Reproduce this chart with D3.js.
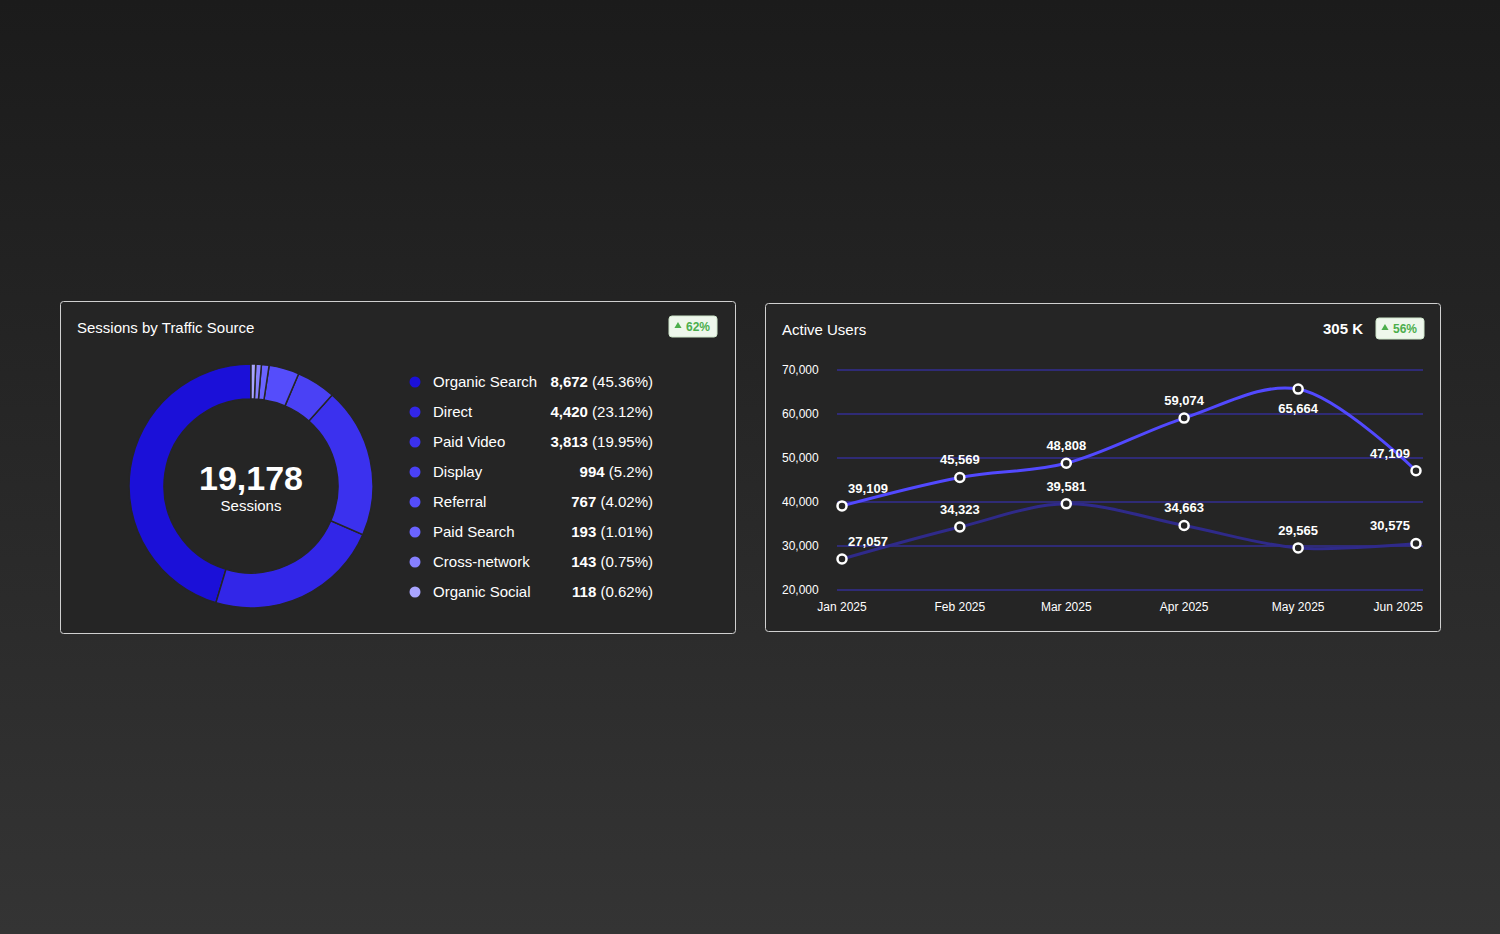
<!DOCTYPE html>
<html><head><meta charset="utf-8">
<script src="https://cdn.jsdelivr.net/npm/d3@7"></script>
<style>
html,body{margin:0;padding:0;}
body{width:1500px;height:934px;background:linear-gradient(#1b1b1b,#343434);font-family:"Helvetica Neue",Arial,"Liberation Sans",sans-serif;overflow:hidden;}
</style></head><body>
<script>
// donut data
var sources = ['Organic Search','Direct','Paid Video','Display','Referral','Paid Search','Cross-network','Organic Social'];
var sessions = [8672, 4420, 3813, 994, 767, 193, 143, 118];
var shares = ['45.36%','23.12%','19.95%','5.2%','4.02%','1.01%','0.75%','0.62%'];
var totalSessions = 19178;
var colors = ['#1b10d8','#3226e8','#3b31ee','#4a41f5','#554dfb','#6a63ff','#8680ff','#a9a5ff'];

// line data
var months = ['Jan 2025','Feb 2025','Mar 2025','Apr 2025','May 2025','Jun 2025'];
var usersA = [39109, 45569, 48808, 59074, 65664, 47109];
var usersB = [27057, 34323, 39581, 34663, 29565, 30575];
var yTicks = [20000, 30000, 40000, 50000, 60000, 70000];

var fmt = d3.format(',');
var parseMonth = d3.timeParse('%b %Y');
var dates = months.map(parseMonth);
var svg = d3.select('body').append('svg').attr('width', 1500).attr('height', 934);

function panel(x, y, w, h) {
    svg.append('rect').attr('x', x + 0.5).attr('y', y + 0.5).attr('width', w).attr('height', h)
        .attr('rx', 3).attr('fill', '#252525').attr('stroke', '#d0d0d0').attr('stroke-width', 1);
}
function badge(x, y, txt) {
    svg.append('rect').attr('x', x).attr('y', y).attr('width', 48).attr('height', 21).attr('rx', 3)
        .attr('fill', '#eef7ec').attr('stroke', '#cfe6cb');
    svg.append('path').attr('d', d3.symbol(d3.symbolTriangle, 22)())
        .attr('transform', 'translate(' + (x + 9) + ',' + (y + 10) + ')').attr('fill', '#4cae4c');
    svg.append('text').attr('x', x + 17).attr('y', y + 15).attr('font-size', 12).attr('font-weight', 'bold')
        .attr('fill', '#4cae4c').text(txt);
}

// ---- left panel
panel(60, 301, 675, 332);
svg.append('text').attr('x', 77).attr('y', 333).attr('fill', '#fff').attr('font-size', 15).text('Sessions by Traffic Source');
badge(669, 316, '62%');

var idx = d3.range(sources.length);
var pie = d3.pie().value(function (i) { return sessions[i]; })
    .sort(function (a, b) { return sessions[a] - sessions[b]; })
    .startAngle(0).endAngle(2 * Math.PI);
var arc = d3.arc().innerRadius(87).outerRadius(122);
var g = svg.append('g').attr('transform', 'translate(251,486)');
g.selectAll('path').data(pie(idx)).enter().append('path')
    .attr('d', arc)
    .attr('fill', function (d) { return colors[d.data]; })
    .attr('stroke', '#252525').attr('stroke-width', 1.5);
g.append('text').attr('text-anchor', 'middle').attr('y', 4).attr('fill', '#fff')
    .attr('font-size', 34).attr('font-weight', 'bold').text(fmt(totalSessions));
g.append('text').attr('text-anchor', 'middle').attr('y', 25).attr('fill', '#fff')
    .attr('font-size', 15).text('Sessions');

var ly = d3.scaleBand().domain(sources).range([367, 607]);
var leg = svg.selectAll('.leg').data(sources).enter().append('g')
    .attr('transform', function (d) { return 'translate(0,' + (ly(d) + ly.bandwidth() / 2) + ')'; });
leg.append('circle').attr('cx', 415).attr('cy', 0).attr('r', 5.5).attr('fill', function (d, i) { return colors[i]; });
leg.append('text').attr('x', 433).attr('y', 5).attr('fill', '#fff').attr('font-size', 15).text(function (d) { return d; });
var vt = leg.append('text').attr('x', 653).attr('y', 5).attr('text-anchor', 'end').attr('fill', '#fff').attr('font-size', 15);
vt.append('tspan').attr('font-weight', 'bold').text(function (d, i) { return fmt(sessions[i]); });
vt.append('tspan').text(function (d, i) { return ' (' + shares[i] + ')'; });

// ---- right panel
panel(765, 303, 675, 328);
svg.append('text').attr('x', 782).attr('y', 335).attr('fill', '#fff').attr('font-size', 15).text('Active Users');
svg.append('text').attr('x', 1363).attr('y', 334).attr('text-anchor', 'end').attr('fill', '#fff')
    .attr('font-size', 15).attr('font-weight', 'bold').text('305 K');
badge(1376, 318, '56%');

var x = d3.scaleTime().domain(d3.extent(dates)).range([842, 1416]);
var y = d3.scaleLinear().domain([20000, 70000]).range([590, 370]);

svg.append('g').selectAll('line').data(yTicks).enter().append('line')
    .attr('x1', 837).attr('x2', 1423).attr('y1', function (d) { return y(d); }).attr('y2', function (d) { return y(d); })
    .attr('stroke', '#3a32c8').attr('stroke-width', 1);
svg.append('g').selectAll('text').data(yTicks).enter().append('text')
    .attr('x', 782).attr('y', function (d) { return y(d) + 4; }).attr('fill', '#fff').attr('font-size', 12)
    .text(function (d) { return fmt(d); });
svg.append('g').selectAll('text').data(months).enter().append('text')
    .attr('x', function (d, i) { return x(dates[i]); }).attr('y', 611).attr('fill', '#fff').attr('font-size', 12)
    .attr('text-anchor', function (d, i) { return i === months.length - 1 ? 'end' : 'middle'; })
    .attr('dx', function (d, i) { return i === months.length - 1 ? 7 : 0; })
    .text(function (d) { return d; });

var line = d3.line().x(function (d, i) { return x(dates[i]); }).y(function (d) { return y(d); })
    .curve(d3.curveCatmullRom.alpha(0.5));

function series(vals, color, top) {
    svg.append('path').datum(vals).attr('d', line).attr('fill', 'none')
        .attr('stroke', color).attr('stroke-width', 3);
    svg.append('g').selectAll('circle').data(vals).enter().append('circle')
        .attr('cx', function (d, i) { return x(dates[i]); }).attr('cy', function (d) { return y(d); })
        .attr('r', 4.5).attr('fill', '#252525').attr('stroke', '#fff').attr('stroke-width', 2.5);
    svg.append('g').selectAll('text').data(vals).enter().append('text')
        .attr('x', function (d, i) { return x(dates[i]) + (i === 0 ? 26 : i === vals.length - 1 ? -26 : 0); })
        .attr('y', function (d) {
            var peak = top && d === d3.max(vals);
            return y(d) + (peak ? 24 : -13);
        })
        .attr('text-anchor', 'middle').attr('fill', '#fff').attr('font-size', 13).attr('font-weight', 'bold')
        .text(function (d) { return fmt(d); });
}
series(usersB, '#2f2a8a', false);
series(usersA, '#5249ff', true);
</script>
</body></html>
